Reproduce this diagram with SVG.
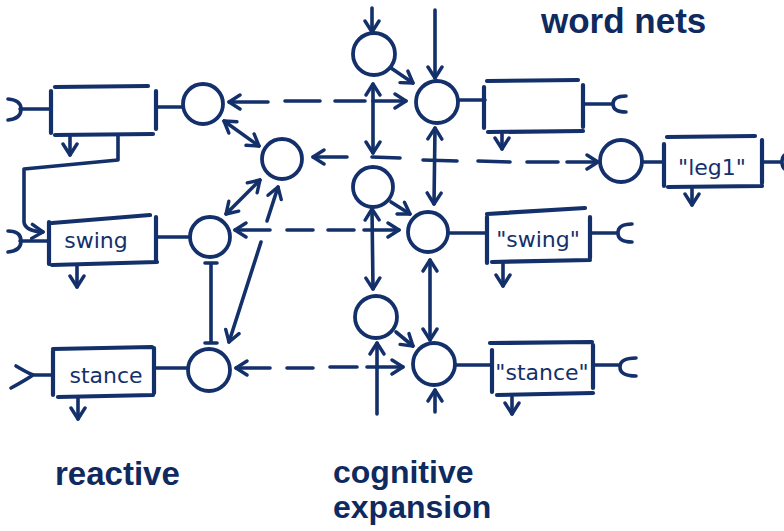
<svg xmlns="http://www.w3.org/2000/svg" width="784" height="531" viewBox="0 0 784 531">
  <defs>
    <style>
      .ln{fill:none;stroke:#13306b;stroke-width:3.6;stroke-linecap:round;stroke-linejoin:round}
      .bx{fill:none;stroke:#13306b;stroke-width:4.2;stroke-linecap:round}
      .nd{fill:none;stroke:#13306b;stroke-width:3.8}
      .ar{marker-end:url(#ah)}
      .da{marker-start:url(#ah);marker-end:url(#ah)}
      .hw{font-family:"DejaVu Sans",sans-serif;font-size:22px;fill:#13306b;text-anchor:middle}
      .lb{font-family:"Liberation Sans",Arial,sans-serif;font-weight:bold;fill:#0f2a5e}
    </style>
    <marker id="ah" viewBox="0 0 15 18" refX="13" refY="9" markerWidth="15" markerHeight="18" markerUnits="userSpaceOnUse" orient="auto-start-reverse">
      <path d="M2,2 L13,9 L2,16" fill="none" stroke="#13306b" stroke-width="3.4" stroke-linecap="round" stroke-linejoin="round"/>
    </marker>
  </defs>

  <rect width="784" height="531" fill="#fff"/>

  <!-- connectors -->
  <g id="connectors">
    <!-- dashed links between reactive units and word nets -->
    <path class="ln da" d="M229,102 H268 M285,101 H320 M335,101 H365 M373,101 H406"/>
    <path class="ln da" d="M235,230 H270 M287,230 H313 M328,230 H354 M364,230 H399"/>
    <path class="ln da" d="M236,368 H270 M287,368 H313 M330,367 H357 M367,367 H403"/>
    <path class="ln da" d="M313,157 L347,157 M372,157 L400,158 M423,160 L457,161 M478,161 L510,162 M527,162 L558,162 M567,162 L598,162"/>

    <!-- reactive couplings -->
    <path class="ln da" d="M224,121 L259,146"/>
    <path class="ln da" d="M260,180 L226,214"/>
    <path class="ln ar" d="M267,221 L278,187"/>
    <path class="ln ar" d="M261,242 L229,342"/>
    <path class="ln" d="M211,264 V342 M205,263 H217 M205,343 H217"/>
    <path class="ln ar" d="M118,136 V160 L24,169 V222 Q25,231 43,232"/>

    <!-- output arrows under boxes -->
    <path class="ln ar" d="M70,137 V155"/>
    <path class="ln ar" d="M77,266 V287"/>
    <path class="ln ar" d="M78,398 V419"/>
    <path class="ln ar" d="M502,134 V149"/>
    <path class="ln ar" d="M692,189 V205"/>
    <path class="ln ar" d="M503,264 V286"/>
    <path class="ln ar" d="M512,397 V414"/>

    <!-- box to circle links -->
    <path class="ln" d="M156,107 H183 M157,237 H190 M155,368 H188 M458,100 H485 M642,162 H664 M448,233 H487 M455,365 H492"/>

    <!-- cognitive expansion -->
    <path class="ln ar" d="M372,8 V32"/>
    <path class="ln ar" d="M391,68 L413,83"/>
    <path class="ln ar" d="M435,10 L435,78"/>
    <path class="ln da" d="M373,84 V153"/>
    <path class="ln da" d="M435,128 L434,204"/>
    <path class="ln ar" d="M391,202 L410,214"/>
    <path class="ln da" d="M372,209 L373,289"/>
    <path class="ln da" d="M430,260 V340"/>
    <path class="ln ar" d="M396,332 L413,346"/>
    <path class="ln ar" d="M377,414 V343"/>
    <path class="ln ar" d="M435,412 V390"/>
  </g>

  <!-- reactive layer -->
  <g id="reactive-top">
    <path class="bx" d="M55,87 L148,86 M51,91 V133 M55,135 L153,134 M156,91 V129"/>
    <path class="ln" d="M20,109 H51 M8,99 Q21,100 21,109 Q21,119 8,120"/>
  </g>
  <g id="reactive-swing">
    <path class="bx" d="M52,223 L150,215 M49,222 V264 M52,265 L157,262 M156,217 V262"/>
    <path class="ln" d="M20,241 H49 M8,231 Q21,231 21,241 Q21,251 8,252"/>
    <text class="hw" x="96" y="248">swing</text>
  </g>
  <g id="reactive-stance">
    <path class="bx" d="M53,349 L152,347 M53,351 V395 M58,397 L153,395 M154,348 V393"/>
    <path class="ln" d="M33,375 H53 M16,366 Q26,372 33,375 M11,388 Q24,381 33,375"/>
    <text class="hw" x="106" y="383">stance</text>
  </g>
  <g id="unit-top"><circle class="nd" cx="203" cy="104" r="20"/></g>
  <g id="unit-swing"><circle class="nd" cx="210" cy="237" r="20"/></g>
  <g id="unit-stance"><circle class="nd" cx="209" cy="370" r="21"/></g>
  <g id="hub"><circle class="nd" cx="282" cy="159" r="20"/></g>

  <!-- cognitive expansion layer -->
  <g id="context-1"><circle class="nd" cx="374" cy="54" r="21"/></g>
  <g id="context-2"><circle class="nd" cx="373" cy="187" r="20"/></g>
  <g id="context-3"><circle class="nd" cx="376" cy="317" r="21"/></g>
  <g id="word-top"><circle class="nd" cx="437" cy="102" r="21"/></g>
  <g id="word-swing"><circle class="nd" cx="428" cy="232" r="20"/></g>
  <g id="word-stance"><circle class="nd" cx="434" cy="364" r="21"/></g>
  <g id="word-leg1"><circle class="nd" cx="621" cy="161" r="21"/></g>

  <!-- word net boxes -->
  <g id="wordbox-top">
    <path class="bx" d="M487,81 L578,80 M484,87 V128 M488,132 L583,131 M583,85 V127"/>
    <path class="ln" d="M583,104 H612 M626,96 Q613,96 613,104 Q613,112 626,112"/>
  </g>
  <g id="wordbox-leg1">
    <path class="bx" d="M667,137 L755,136 M664,144 V186 M668,187 L762,186 M762,140 V183"/>
    <path class="ln" d="M762,162 H782 M792,153 Q782,153 782,162 Q782,171 792,171"/>
    <text class="hw" x="712" y="175">"leg1"</text>
  </g>
  <g id="wordbox-swing">
    <path class="bx" d="M487,214 L585,208 M487,217 V263 M492,262 L590,260 M590,217 V258"/>
    <path class="ln" d="M590,233 H617 M632,224 Q618,224 618,233 Q618,242 632,242"/>
    <text class="hw" x="538" y="247">"swing"</text>
  </g>
  <g id="wordbox-stance">
    <path class="bx" d="M490,343 L592,342 M492,350 V392 M497,395 L593,393 M593,345 V388"/>
    <path class="ln" d="M593,365 H619 M636,358 Q620,358 620,367 Q620,376 636,376"/>
    <text class="hw" x="542" y="380">"stance"</text>
  </g>

  <!-- layer labels -->
  <g id="labels">
    <text class="lb" x="541" y="33" font-size="35">word nets</text>
    <text class="lb" x="55" y="485" font-size="33">reactive</text>
    <text class="lb" x="333" y="483" font-size="32">cognitive</text>
    <text class="lb" x="333" y="518" font-size="32">expansion</text>
  </g>
</svg>
